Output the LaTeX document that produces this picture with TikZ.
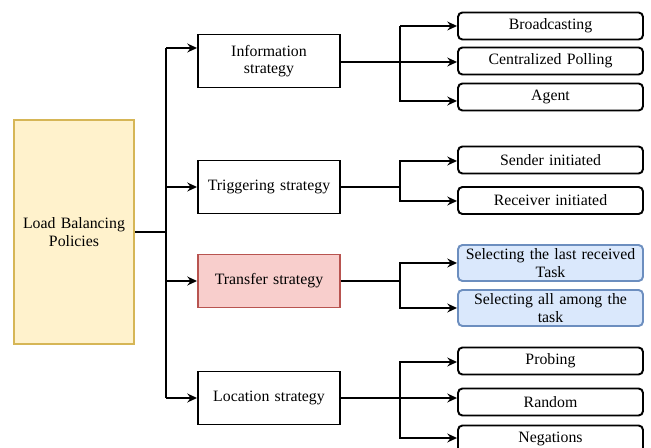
\documentclass[tikz,border=0pt]{standalone}
\usepackage{fontspec}
\setmainfont{Liberation Serif}
\usetikzlibrary{arrows.meta}

\definecolor{lbpfill}{HTML}{FFF2CC}
\definecolor{lbpdraw}{HTML}{D6B656}
\definecolor{tsfill}{HTML}{F8CECC}
\definecolor{tsdraw}{HTML}{B85450}
\definecolor{selfill}{HTML}{DAE8FC}
\definecolor{seldraw}{HTML}{6C8EBF}

\tikzset{
  strat/.style={draw, line width=1.1pt, minimum width=2.84cm, minimum height=1.06cm,
    inner sep=0pt, text width=2.6cm, align=center, font=\fontsize{9}{10}\selectfont},
  leaf/.style={draw, line width=1.1pt, rounded corners=2.5pt, minimum width=3.7cm,
    minimum height=0.54cm, inner sep=0pt, text width=3.6cm, align=center,
    font=\fontsize{9}{10}\selectfont},
  sel/.style={leaf, draw=seldraw, fill=selfill, minimum height=0.72cm},
  arr/.style={line width=1.1pt, -{Stealth[length=5.5pt,width=5pt]}},
  ln/.style={line width=1.1pt}
}

\begin{document}
\begin{tikzpicture}[x=0.02cm, y=-0.02cm]
    \useasboundingbox (0,0) rectangle (651,448);
    \clip (0,0) rectangle (651,448);
    \node[draw=lbpdraw, fill=lbpfill, line width=1.1pt, minimum width=2.4cm, minimum height=4.48cm,
      inner sep=0pt, text width=2.2cm, align=center, font=\fontsize{9}{10}\selectfont]
      (lbp) at (74,232) {Load Balancing\\Policies};
    \node[strat] (info) at (269,61) {Information\\strategy};
    \node[strat] (trig) at (269,187) {Triggering strategy};
    \node[strat, draw=tsdraw, fill=tsfill] (trans) at (269,281) {Transfer strategy};
    \node[strat] (loc) at (269,398) {Location strategy};
    \node[leaf] (bcast) at (550.5,26) {Broadcasting};
    \node[leaf] (cpoll) at (550.5,61) {Centralized Polling};
    \node[leaf] (agent) at (550.5,97) {Agent};
    \node[leaf] (send) at (550.5,160) {Sender initiated};
    \node[leaf] (recv) at (550.5,200.5) {Receiver initiated};
    \node[sel] (last) at (550.5,263) {Selecting the last received\\Task};
    \node[sel] (all) at (550.5,308) {Selecting all among the\\task};
    \node[leaf] (probe) at (550.5,361) {Probing};
    \node[leaf] (rand) at (550.5,402) {Random};
    \node[leaf] (neg) at (550.5,439) {Negations};

    \coordinate (b0) at (166,232);
    \coordinate (b1) at (166,48);
    \coordinate (b4) at (166,398);
    \draw[ln] (lbp.east) -- (b0);
    \draw[ln] (b1) -- (b4);
    \draw[arr] (b1) -- (info.west |- b1);
    \draw[arr] (b1 |- trig) -- (trig.west);
    \draw[arr] (b1 |- trans) -- (trans.west);
    \draw[arr] (b4) -- (loc.west |- b4);

    \coordinate (i0) at (400,62);
    \draw[ln] (info.east |- i0) -- (i0);
    \draw[arr] (400,26) |- (bcast.west);
    \draw[arr] (i0) -- (cpoll.west |- i0);
    \draw[arr] (400,26) |- (agent.west |- 0,101);

    \coordinate (t0) at (400,187);
    \draw[ln] (trig.east) -- (t0);
    \draw[arr] (t0) |- (send.west |- 0,161);
    \draw[arr] (t0) |- (recv.west |- 0,201);

    \coordinate (s0) at (400,281);
    \draw[ln] (trans.east) -- (s0);
    \draw[arr] (s0) |- (last.west);
    \draw[arr] (s0) |- (all.west);

    \coordinate (l0) at (400,398);
    \draw[ln] (loc.east |- l0) -- (l0);
    \draw[arr] (l0) |- (probe.west |- 0,362);
    \draw[arr] (l0) -- (rand.west |- l0);
    \draw[arr] (l0) |- (neg.west |- 0,438);
\end{tikzpicture}
\end{document}
